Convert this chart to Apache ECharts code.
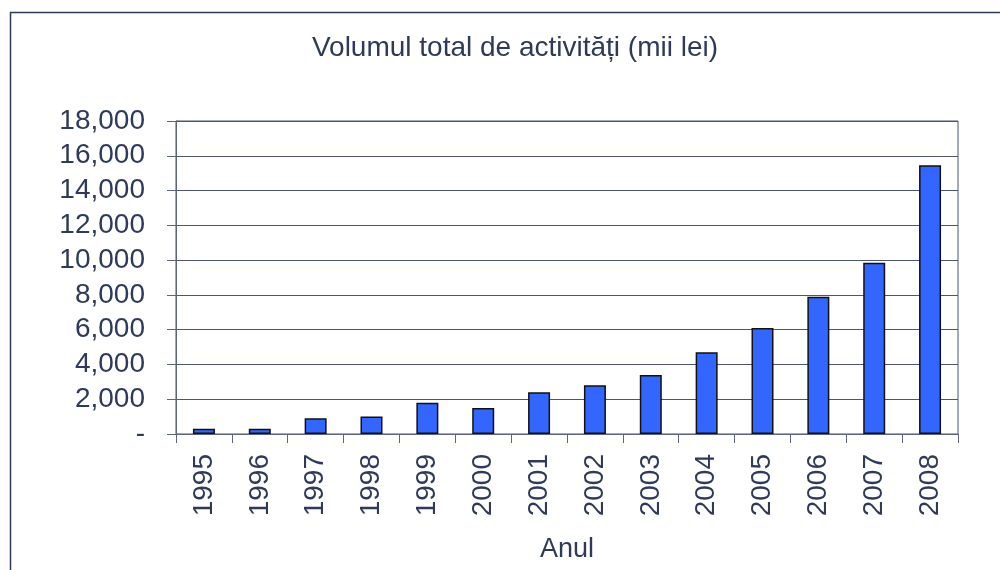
<!DOCTYPE html>
<html>
<head>
<meta charset="utf-8">
<script src="https://cdn.jsdelivr.net/npm/echarts@6/dist/echarts.min.js"></script>
<style>
  html, body { margin: 0; padding: 0; background: #fff; }
  #chart { width: 1000px; height: 570px; }
</style>
</head>
<body>
<div id="chart"></div>
<script>
// year categories and activity volume (mii lei)
var years = ['1995', '1996', '1997', '1998', '1999', '2000', '2001',
             '2002', '2003', '2004', '2005', '2006', '2007', '2008'];
var volume = [300, 300, 900, 1000, 1800, 1500, 2400,
              2800, 3400, 4700, 6100, 7900, 9850, 15450];
var yTicks = [0, 2000, 4000, 6000, 8000, 10000, 12000, 14000, 16000, 18000];

var textColor = '#2f3a5a';
var lineColor = '#4b5470';
var font = 'Liberation Sans, Arial, sans-serif';

var chart = echarts.init(document.getElementById('chart'));

var option = {
  backgroundColor: '#fff',
  animation: false,
  title: {
    text: 'Volumul total de activități (mii lei)',
    left: 510,
    textAlign: 'center',
    top: 29,
    textStyle: {
      color: textColor,
      fontFamily: font,
      fontWeight: 'normal',
      fontSize: 28
    }
  },
  graphic: [{
    type: 'rect',
    shape: { x: 10.5, y: 12.5, width: 1100, height: 700 },
    style: { fill: 'none', stroke: '#2e3a5e', lineWidth: 1.5 },
    silent: true
  }],
  grid: {
    left: 176,
    right: 42,
    top: 121,
    bottom: 136,
    show: true,
    borderColor: lineColor,
    borderWidth: 1
  },
  xAxis: {
    type: 'category',
    data: years,
    boundaryGap: true,
    name: 'Anul',
    nameLocation: 'middle',
    nameGap: 102,
    nameTextStyle: { color: textColor, fontFamily: font, fontSize: 27 },
    axisLine: { show: true, lineStyle: { color: '#5c6480', width: 1 } },
    axisTick: { show: true, length: 9, alignWithLabel: false, lineStyle: { color: '#5c6480' } },
    axisLabel: {
      rotate: 90,
      margin: 20,
      interval: 0,
      color: textColor,
      fontFamily: font,
      fontSize: 28
    },
    splitLine: { show: false }
  },
  yAxis: {
    type: 'value',
    min: yTicks[0],
    max: yTicks[yTicks.length - 1],
    interval: yTicks[1] - yTicks[0],
    axisLine: { show: true, lineStyle: { color: '#5c6480', width: 1 } },
    axisTick: { show: true, length: 9, lineStyle: { color: '#5c6480' } },
    axisLabel: {
      margin: 31,
      color: textColor,
      fontFamily: font,
      fontSize: 28,
      formatter: function (v) {
        if (v === 0) return '-';
        return v.toLocaleString('en-US');
      }
    },
    splitLine: { show: true, lineStyle: { color: lineColor, width: 1 } }
  },
  series: [{
    type: 'bar',
    data: volume,
    barWidth: 22,
    itemStyle: {
      color: '#3366ff',
      borderColor: '#111',
      borderWidth: 1.5
    }
  }]
};

chart.setOption(option);
</script>
</body>
</html>
